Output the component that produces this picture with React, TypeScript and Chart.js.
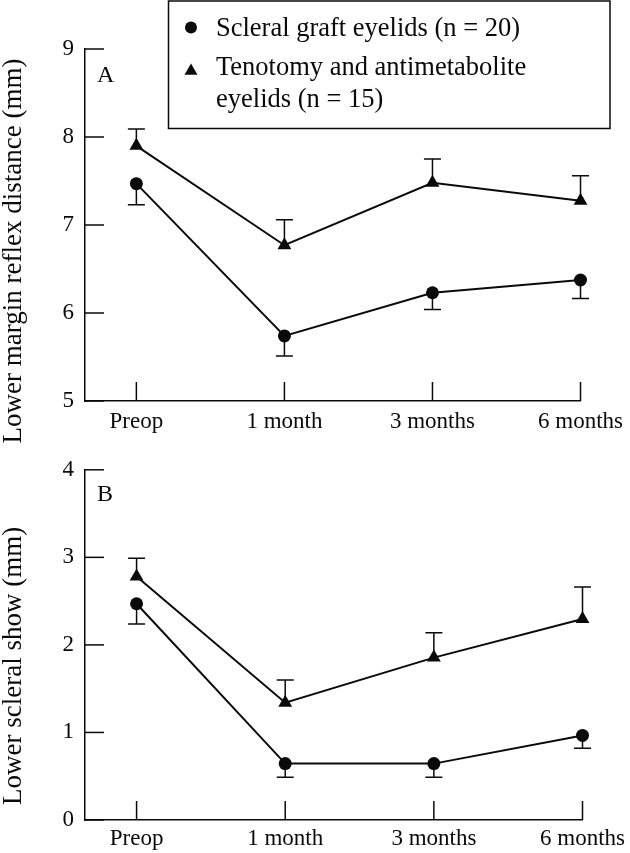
import React, { useEffect, useRef } from 'react';
import { Chart, registerables } from 'chart.js';

Chart.register(...registerables);

// ---- data ----
const timeLabels = ['Preop', '1 month', '3 months', '6 months'];
const legendScleral = 'Scleral graft eyelids (n = 20)';
const legendTenotomy = ['Tenotomy and antimetabolite', 'eyelids (n = 15)'];

const mrdTitle = 'Lower margin reflex distance (mm)';
const mrdTicks = [5, 6, 7, 8, 9];
const mrdScleral = [7.47, 5.74, 6.23, 6.375];
const mrdScleralSE = [0.24, 0.23, 0.19, 0.21];
const mrdTenotomy = [7.9, 6.77, 7.48, 7.275];
const mrdTenotomySE = [0.19, 0.29, 0.27, 0.285];

const showTitle = 'Lower scleral show (mm)';
const showTicks = [0, 1, 2, 3, 4];
const showScleral = [2.47, 0.644, 0.644, 0.966];
const showScleralSE = [0.23, 0.155, 0.155, 0.146];
const showTenotomy = [2.78, 1.34, 1.855, 2.295];
const showTenotomySE = [0.21, 0.26, 0.285, 0.365];

const FONT = "'Liberation Serif', 'Times New Roman', serif";
const INK = '#0a0a0a';

const panelPlugin = {
  id: 'panelExtras',
  beforeDatasetsDraw(chart: any) {
    const ctx = chart.ctx;
    const xs = chart.scales.x;
    const ys = chart.scales.y;
    const ca = chart.chartArea;
    ctx.save();
    ctx.strokeStyle = INK;
    ctx.lineWidth = 1.5;
    // inward tick marks
    ys.ticks.forEach((t: any) => {
      const y = ys.getPixelForValue(t.value);
      ctx.beginPath();
      ctx.moveTo(ca.left, y);
      ctx.lineTo(ca.left + 19, y);
      ctx.stroke();
    });
    xs.ticks.forEach((t: any) => {
      const x = xs.getPixelForValue(t.value);
      ctx.beginPath();
      ctx.moveTo(x, ca.bottom);
      ctx.lineTo(x, ca.bottom - 19);
      ctx.stroke();
    });
    // error bars
    chart.data.datasets.forEach((ds: any, di: number) => {
      const meta = chart.getDatasetMeta(di);
      meta.data.forEach((pt: any, i: number) => {
        const v = ds.data[i].y;
        const end = ys.getPixelForValue(v + ds.errDir * ds.errs[i]);
        ctx.beginPath();
        ctx.moveTo(pt.x, pt.y);
        ctx.lineTo(pt.x, end);
        ctx.moveTo(pt.x - 8.5, end);
        ctx.lineTo(pt.x + 8.5, end);
        ctx.stroke();
      });
    });
    ctx.restore();
  },
  afterDraw(chart: any, _args: any, opts: any) {
    const ctx = chart.ctx;
    const ca = chart.chartArea;
    ctx.save();
    ctx.fillStyle = INK;
    // y title
    ctx.save();
    ctx.translate(21, (ca.top + ca.bottom) / 2 + opts.titleOffset);
    ctx.rotate(-Math.PI / 2);
    ctx.font = `27px ${FONT}`;
    ctx.textAlign = 'center';
    ctx.textBaseline = 'alphabetic';
    ctx.fillText(opts.title, 0, 0);
    ctx.restore();
    // panel letter
    ctx.font = `24px ${FONT}`;
    ctx.textAlign = 'left';
    ctx.textBaseline = 'alphabetic';
    ctx.fillText(opts.letter, ca.left + 12, ca.top + opts.letterDy);
    // legend
    if (opts.legend) {
      ctx.fillStyle = '#fff';
      ctx.fillRect(168.5, 1, 441.5, 127.5);
      ctx.strokeStyle = INK;
      ctx.lineWidth = 1.5;
      ctx.strokeRect(168.5, 1, 441.5, 127.5);
      ctx.fillStyle = INK;
      ctx.beginPath();
      ctx.arc(191, 27.5, 6, 0, Math.PI * 2);
      ctx.fill();
      const r = 7.5;
      const cx = 191, cy = 71;
      ctx.beginPath();
      ctx.moveTo(cx, cy - r);
      ctx.lineTo(cx + r * Math.sin(2 * Math.PI / 3), cy + r / 2);
      ctx.lineTo(cx - r * Math.sin(2 * Math.PI / 3), cy + r / 2);
      ctx.closePath();
      ctx.fill();
      ctx.font = `26.5px ${FONT}`;
      ctx.fillText(legendScleral, 216, 36);
      ctx.fillText(legendTenotomy[0], 216, 75);
      ctx.fillText(legendTenotomy[1], 216, 107);
    }
    ctx.restore();
  },
};

type PanelProps = {
  top: number;
  height: number;
  padTop: number;
  xHeight: number;
  labelPad: number;
  ticks: number[];
  scleral: number[];
  scleralSE: number[];
  tenotomy: number[];
  tenotomySE: number[];
  title: string;
  letter: string;
  letterDy: number;
  titleOffset: number;
  legend: boolean;
};

function Panel(p: PanelProps) {
  const ref = useRef<HTMLCanvasElement>(null);
  useEffect(() => {
    const common = {
      borderColor: INK,
      backgroundColor: INK,
      pointBackgroundColor: INK,
      pointBorderColor: INK,
      pointBorderWidth: 0,
      borderWidth: 2,
      tension: 0,
      clip: false as any,
    };
    const chart = new Chart(ref.current!, {
      type: 'line',
      data: {
        datasets: [
          {
            ...common,
            label: legendScleral,
            data: p.scleral.map((v, i) => ({ x: i, y: v })),
            pointStyle: 'circle',
            pointRadius: 6.5,
            errs: p.scleralSE,
            errDir: -1,
          } as any,
          {
            ...common,
            label: legendTenotomy.join(' '),
            data: p.tenotomy.map((v, i) => ({ x: i, y: v })),
            pointStyle: 'triangle',
            pointRadius: 8,
            errs: p.tenotomySE,
            errDir: 1,
          } as any,
        ],
      },
      options: {
        responsive: false,
        animation: false,
        events: [],
        layout: {
          padding: { left: 0, right: 34, top: p.padTop, bottom: 0 },
          autoPadding: false,
        } as any,
        plugins: {
          legend: { display: false },
          tooltip: { enabled: false },
          panelExtras: {
            title: p.title,
            letter: p.letter,
            letterDy: p.letterDy,
            titleOffset: p.titleOffset,
            legend: p.legend,
          },
        } as any,
        scales: {
          x: {
            type: 'linear',
            min: -0.347,
            max: 3,
            afterBuildTicks: (s: any) => {
              s.ticks = timeLabels.map((_, i) => ({ value: i }));
            },
            afterFit: (s: any) => {
              s.height = p.xHeight;
            },
            grid: { display: false, drawTicks: false },
            border: { display: true, color: INK, width: 1.5 },
            ticks: {
              autoSkip: false,
              maxRotation: 0,
              padding: p.labelPad,
              color: INK,
              font: { family: FONT, size: 23 },
              callback: (v: any) => timeLabels[v] ?? '',
            },
          },
          y: {
            type: 'linear',
            min: p.ticks[0],
            max: p.ticks[p.ticks.length - 1],
            afterBuildTicks: (s: any) => {
              s.ticks = p.ticks.map((v) => ({ value: v }));
            },
            afterFit: (s: any) => {
              s.width = 85;
            },
            grid: { display: false, drawTicks: false },
            border: { display: true, color: INK, width: 1.5 },
            ticks: {
              padding: 11,
              color: INK,
              font: { family: FONT, size: 23 },
            },
          },
        } as any,
      },
      plugins: [panelPlugin],
    });
    return () => chart.destroy();
  }, []);
  return (
    <canvas
      ref={ref}
      width={630}
      height={p.height}
      style={{ position: 'absolute', left: 0, top: p.top, width: 630, height: p.height, display: 'block' }}
    />
  );
}

export default function App() {
  return (
    <div style={{ position: 'absolute', left: 0, top: 0, width: 630, height: 853, background: '#fff' }}>
      <Panel
        top={0}
        height={445}
        padTop={49}
        xHeight={44}
        labelPad={7}
        ticks={mrdTicks}
        scleral={mrdScleral}
        scleralSE={mrdScleralSE}
        tenotomy={mrdTenotomy}
        tenotomySE={mrdTenotomySE}
        title={mrdTitle}
        letter="A"
        letterDy={33}
        titleOffset={26}
        legend={true}
      />
      <Panel
        top={445}
        height={408}
        padTop={23}
        xHeight={33}
        labelPad={5}
        ticks={showTicks}
        scleral={showScleral}
        scleralSE={showScleralSE}
        tenotomy={showTenotomy}
        tenotomySE={showTenotomySE}
        title={showTitle}
        letter="B"
        letterDy={31}
        titleOffset={21}
        legend={false}
      />
    </div>
  );
}
